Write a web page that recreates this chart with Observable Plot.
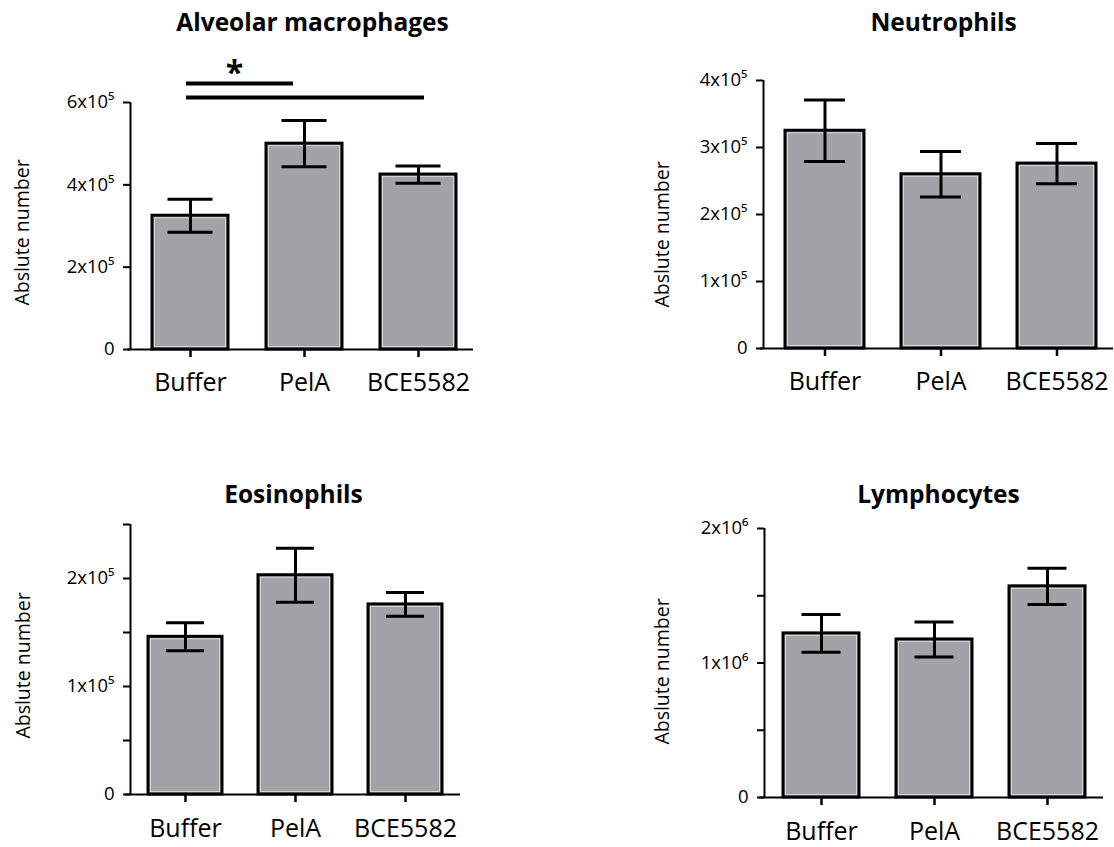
<!DOCTYPE html>
<html>
<head>
<meta charset="utf-8">
<script src="https://cdn.jsdelivr.net/npm/d3@7"></script>
<script src="https://cdn.jsdelivr.net/npm/@observablehq/plot@0.6"></script>
<style>
  html, body { margin: 0; padding: 0; background: white; }
  #root { position: relative; width: 1114px; height: 847px; overflow: hidden; background: white; }
  .panel { position: absolute; }
</style>
</head>
<body>
<div id="root"></div>
<script>
// ---------------- data ----------------
const categories = ["Buffer", "PelA", "BCE5582"];
const yAxisLabel = "Abslute number";

const titles = ["Alveolar macrophages", "Neutrophils", "Eosinophils", "Lymphocytes"];

const amMean  = [3.25e5, 5.00e5, 4.25e5];
const amErr   = [0.40e5, 0.56e5, 0.21e5];
const neuMean = [3.25e5, 2.60e5, 2.76e5];
const neuErr  = [0.46e5, 0.34e5, 0.30e5];
const eosMean = [1.46e5, 2.03e5, 1.76e5];
const eosErr  = [0.13e5, 0.25e5, 0.11e5];
const lymMean = [1.22e6, 1.175e6, 1.57e6];
const lymErr  = [0.14e6, 0.13e6, 0.135e6];

const amTicks   = [0, 2e5, 4e5, 6e5];
const amLabels  = ["0", "2x10⁵", "4x10⁵", "6x10⁵"];
const neuTicks  = [0, 1e5, 2e5, 3e5, 4e5];
const neuLabels = ["0", "1x10⁵", "2x10⁵", "3x10⁵", "4x10⁵"];
const eosTicks  = [0, 0.5e5, 1e5, 1.5e5, 2e5, 2.5e5];
const eosLabels = ["0", "", "1x10⁵", "", "2x10⁵", ""];
const lymTicks  = [0, 0.5e6, 1e6, 1.5e6, 2e6];
const lymLabels = ["0", "", "1x10⁶", "", "2x10⁶"];

// significance bracket lines (Alveolar macrophages)
const sigFrom = ["Buffer", "Buffer"];
const sigTo   = ["PelA", "BCE5582"];
const sigY    = [6.46e5, 6.12e5];
const sigStar = "*";
const sigStarY = 6.70e5;

// ---------------- helpers ----------------
const FONT = "Open Sans";
const BAR_FILL = "#a3a2a7";

function rows(mean, err) {
  return categories.map((c, i) => ({cat: c, mean: mean[i], lo: mean[i] - err[i], hi: mean[i] + err[i]}));
}

function panel(cfg) {
  const data = rows(cfg.mean, cfg.err);
  const labelMap = new Map(cfg.ticks.map((t, i) => [t, cfg.labels[i]]));
  const frameMid = cfg.marginTop + (cfg.height - cfg.marginTop - cfg.marginBottom) / 2;
  const frameCx = cfg.marginLeft + (cfg.width - cfg.marginLeft - cfg.marginRight) / 2;
  const marks = [
    Plot.barY(data, {x: "cat", y: "mean", fill: BAR_FILL, stroke: "black", strokeWidth: 3}),
    Plot.barY(data, {x: "cat", y: "mean", fill: "none", stroke: "#d6d6d8", strokeWidth: 1, inset: 2.5}),
    Plot.ruleX(data, {x: "cat", y1: "lo", y2: "hi", stroke: "black", strokeWidth: 3}),
    Plot.tickY(data, {x: "cat", y: "hi", stroke: "black", strokeWidth: 3, inset: cfg.capInset}),
    Plot.tickY(data, {x: "cat", y: "lo", stroke: "black", strokeWidth: 3, inset: cfg.capInset}),
    // axis lines
    Plot.ruleX([0], {x: null, dx: cfg.marginLeft - frameCx, stroke: "black", strokeWidth: 2}),
    Plot.ruleY([0], {stroke: "black", strokeWidth: 2, insetLeft: cfg.xLineExt}),
    Plot.axisY({ticks: cfg.ticks, tickFormat: (d) => labelMap.get(d) ?? "", tickSize: 7, tickPadding: 9,
      fontSize: 18.5, strokeWidth: 2, label: null, fill: "black", stroke: "black"}),
    Plot.axisX({tickSize: 8, tickPadding: cfg.xPad, fontSize: 25, strokeWidth: 2.5, label: null,
      fill: "black", stroke: "black"}),
    Plot.text([yAxisLabel], {text: (d) => d, frameAnchor: "left", textAnchor: "middle", lineAnchor: "middle",
      rotate: -90, fontSize: 19.5, fill: "black",
      dx: cfg.yLabelX - cfg.marginLeft, dy: cfg.yLabelY - frameMid}),
    Plot.text([cfg.title], {text: (d) => d, frameAnchor: "top", textAnchor: "middle", lineAnchor: "middle",
      fontSize: 24.5, fontWeight: "bold", fill: "black",
      dx: cfg.titleX - frameCx, dy: cfg.titleY - cfg.marginTop})
  ];
  if (cfg.extra) marks.push(...cfg.extra);
  return Plot.plot({
    width: cfg.width, height: cfg.height,
    marginLeft: cfg.marginLeft, marginRight: cfg.marginRight,
    marginTop: cfg.marginTop, marginBottom: cfg.marginBottom,
    style: {fontFamily: FONT, color: "black", background: "white", overflow: "visible"},
    x: {domain: categories, range: cfg.xRange, paddingInner: cfg.pi, paddingOuter: cfg.pi / 2, axis: null},
    y: {domain: cfg.domain, axis: null},
    marks
  });
}

const sigMarks = [
  Plot.ruleY([0], {x1: () => sigFrom[0], x2: () => sigTo[0], y: () => sigY[0], stroke: "black", strokeWidth: 4,
    insetLeft: 34, insetRight: 49}),
  Plot.ruleY([1], {x1: () => sigFrom[1], x2: () => sigTo[1], y: () => sigY[1], stroke: "black", strokeWidth: 4,
    insetLeft: 34, insetRight: 32}),
  Plot.text([sigStar], {text: (d) => d, x: () => sigFrom[0], y: () => sigStarY, dx: 44, fontSize: 32, fontWeight: "bold",
    fill: "black"})
];

const layouts = [
  {left: 0, top: 0, width: 557, height: 420, marginLeft: 130, marginRight: 84, marginTop: 102, marginBottom: 71,
   xRange: [131.75, 475.25], pi: 0.336, capInset: 15.5, xPad: 16, xLineExt: -3, yLabelX: 22, yLabelY: 232, titleX: 312, titleY: 23,
   mean: amMean, err: amErr, ticks: amTicks, labels: amLabels, domain: [0, 6e5], title: titles[0], extra: sigMarks},
  {left: 557, top: 0, width: 557, height: 420, marginLeft: 206, marginRight: 1, marginTop: 80, marginBottom: 72,
   xRange: [208.75, 558.25], pi: 0.322, capInset: 19, xPad: 16, xLineExt: -3, yLabelX: 105, yLabelY: 234, titleX: 386, titleY: 23,
   mean: neuMean, err: neuErr, ticks: neuTicks, labels: neuLabels, domain: [0, 4e5], title: titles[1]},
  {left: 0, top: 420, width: 557, height: 427, marginLeft: 130, marginRight: 97, marginTop: 104, marginBottom: 53,
   xRange: [130, 460], pi: 0.327, capInset: 18, xPad: 17, xLineExt: -5, yLabelX: 23, yLabelY: 245, titleX: 293, titleY: 75,
   mean: eosMean, err: eosErr, ticks: eosTicks, labels: eosLabels, domain: [0, 2.5e5], title: titles[2]},
  {left: 557, top: 420, width: 557, height: 427, marginLeft: 207, marginRight: 11, marginTop: 108, marginBottom: 50,
   xRange: [207.5, 546.5], pi: 0.327, capInset: 18.5, xPad: 17, xLineExt: -5, yLabelX: 105, yLabelY: 251, titleX: 381, titleY: 75,
   mean: lymMean, err: lymErr, ticks: lymTicks, labels: lymLabels, domain: [0, 2e6], title: titles[3]}
];

const root = document.getElementById("root");
for (const cfg of layouts) {
  const div = document.createElement("div");
  div.className = "panel";
  div.style.left = cfg.left + "px";
  div.style.top = cfg.top + "px";
  div.appendChild(panel(cfg));
  root.appendChild(div);
}
</script>
</body>
</html>
